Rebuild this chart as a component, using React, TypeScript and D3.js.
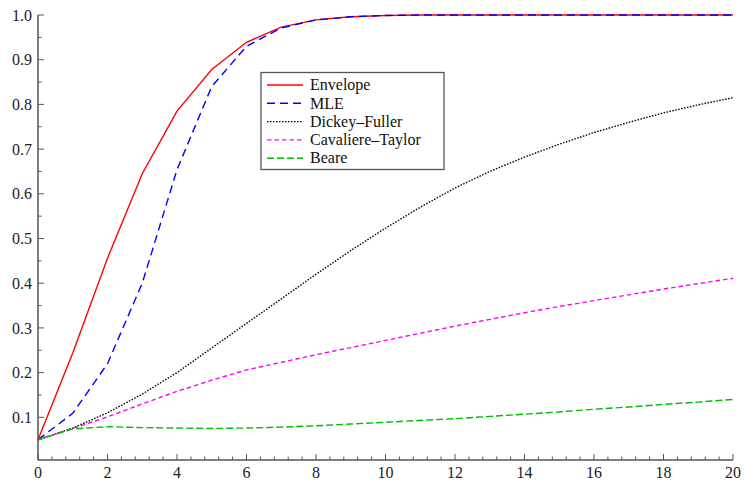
import { useEffect, useRef } from 'react';
import * as d3 from 'd3';

const steps = d3.range(0, 21);

const envelope = [0.05, 0.244, 0.456, 0.645, 0.785, 0.878, 0.939, 0.973, 0.989, 0.996, 0.999, 1, 1, 1, 1, 1, 1, 1, 1, 1, 1];
const mle = [0.05, 0.109, 0.22, 0.4, 0.654, 0.84, 0.93, 0.971, 0.989, 0.996, 0.999, 1, 1, 1, 1, 1, 1, 1, 1, 1, 1];
const dickeyFuller = [0.05, 0.076, 0.11, 0.152, 0.2, 0.255, 0.31, 0.365, 0.42, 0.473, 0.523, 0.57, 0.613, 0.65, 0.682, 0.711, 0.737, 0.76, 0.781, 0.799, 0.815];
const cavaliereTaylor = [0.05, 0.075, 0.101, 0.13, 0.158, 0.183, 0.206, 0.223, 0.24, 0.256, 0.272, 0.288, 0.304, 0.319, 0.334, 0.348, 0.361, 0.374, 0.387, 0.399, 0.411];
const beare = [0.05, 0.074, 0.079, 0.077, 0.076, 0.075, 0.076, 0.078, 0.081, 0.085, 0.089, 0.093, 0.097, 0.102, 0.107, 0.112, 0.118, 0.123, 0.129, 0.134, 0.14];

const seriesNames = ['Envelope', 'MLE', 'Dickey\u2013Fuller', 'Cavaliere\u2013Taylor', 'Beare'];
const yTicks = [0.1, 0.2, 0.3, 0.4, 0.5, 0.6, 0.7, 0.8, 0.9, 1.0];
const xTicks = [0, 2, 4, 6, 8, 10, 12, 14, 16, 18, 20];

const App = () => {
  const svgRef = useRef<SVGSVGElement>(null);

  useEffect(() => {
    const svg = d3.select(svgRef.current);
    svg.selectAll('*').remove();

    const font = "'Liberation Serif', 'DejaVu Serif', 'Times New Roman', Times, serif";
    const axisColor = '#555';

    const x = d3.scaleLinear().domain([0, 20]).range([38, 733]);
    const y = d3.scaleLinear().domain([0.0045, 1]).range([460, 15]);

    const styles = [
      { color: '#ff0000', dash: null },
      { color: '#0000ff', dash: '8,5' },
      { color: '#000000', dash: '1.5,1.5' },
      { color: '#ff00ff', dash: '4.5,3' },
      { color: '#00bb00', dash: '7,3' },
    ];
    const allSeries = [envelope, mle, dickeyFuller, cavaliereTaylor, beare];

    // axes lines
    svg.append('line')
      .attr('x1', x(0)).attr('x2', x(0))
      .attr('y1', y(1)).attr('y2', y.range()[0])
      .attr('stroke', axisColor).attr('stroke-width', 1.5);
    svg.append('line')
      .attr('x1', x(0)).attr('x2', x(20))
      .attr('y1', y.range()[0]).attr('y2', y.range()[0])
      .attr('stroke', axisColor).attr('stroke-width', 1.5);

    // y ticks (major + minor every 0.05)
    const yMinor = d3.range(0.05, 1.0001, 0.05);
    svg.append('g').selectAll('line')
      .data(yMinor)
      .enter().append('line')
      .attr('x1', x(0)).attr('x2', (d, i) => x(0) + (i % 2 === 1 ? 6 : 3.5))
      .attr('y1', d => y(d)).attr('y2', d => y(d))
      .attr('stroke', axisColor).attr('stroke-width', 1);

    svg.append('g').selectAll('text')
      .data(yTicks)
      .enter().append('text')
      .attr('x', 32)
      .attr('y', d => y(d))
      .attr('dy', '0.35em')
      .attr('text-anchor', 'end')
      .style('font-family', font)
      .style('font-size', '16px')
      .attr('fill', '#222')
      .text(d => d.toFixed(1));

    // x ticks (major every 2, minor every 0.4)
    const xMinor = d3.range(0, 20.001, 0.4);
    svg.append('g').selectAll('line')
      .data(xMinor)
      .enter().append('line')
      .attr('x1', d => x(d)).attr('x2', d => x(d))
      .attr('y1', y.range()[0])
      .attr('y2', (d, i) => y.range()[0] - (i % 5 === 0 ? 6 : 3.5))
      .attr('stroke', axisColor).attr('stroke-width', 1);

    svg.append('g').selectAll('text')
      .data(xTicks)
      .enter().append('text')
      .attr('x', d => x(d))
      .attr('y', 478)
      .attr('text-anchor', 'middle')
      .style('font-family', font)
      .style('font-size', '16px')
      .attr('fill', '#222')
      .text(d => d);

    // lines
    const line = d3.line<number>()
      .x((d, i) => x(steps[i]))
      .y(d => y(d));

    allSeries.forEach((values, k) => {
      const p = svg.append('path')
        .datum(values)
        .attr('fill', 'none')
        .attr('stroke', styles[k].color)
        .attr('stroke-width', 1.4)
        .attr('d', line);
      if (styles[k].dash) p.attr('stroke-dasharray', styles[k].dash);
    });

    // legend
    const legend = svg.append('g');
    legend.append('rect')
      .attr('x', 261).attr('y', 72.5)
      .attr('width', 183).attr('height', 97)
      .attr('fill', 'white')
      .attr('stroke', axisColor).attr('stroke-width', 1.3);

    seriesNames.forEach((name, i) => {
      const cy = 85 + i * 18.3;
      const l = legend.append('line')
        .attr('x1', 267).attr('x2', 303)
        .attr('y1', cy).attr('y2', cy)
        .attr('stroke', styles[i].color)
        .attr('stroke-width', 1.4);
      if (styles[i].dash) l.attr('stroke-dasharray', styles[i].dash);
      legend.append('text')
        .attr('x', 310)
        .attr('y', cy)
        .attr('dy', '0.33em')
        .style('font-family', font)
        .style('font-size', '16px')
        .attr('fill', '#111')
        .text(name);
    });
  }, []);

  return (
    <svg ref={svgRef} width={744} height={484} style={{ display: 'block', position: 'absolute', left: 0, top: 0 }}></svg>
  );
};

export default App;
